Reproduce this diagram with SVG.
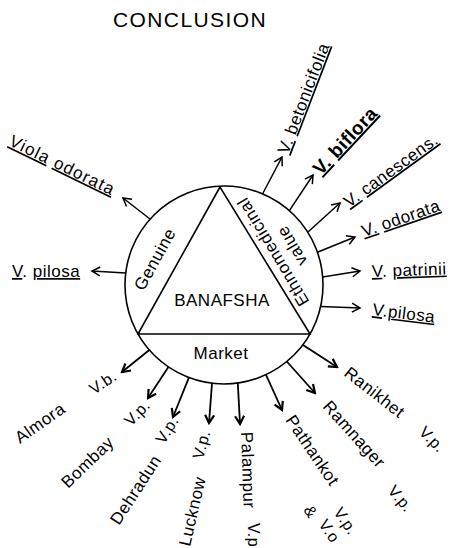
<svg xmlns="http://www.w3.org/2000/svg" width="453" height="548" viewBox="0 0 453 548">
<defs>
<style>
.t{font-family:"Liberation Sans",Arial,Helvetica,sans-serif;font-size:17px;letter-spacing:0.5px;fill:#000}
.s{font-size:16px}
.b{font-weight:bold;font-size:19px}
.u{text-decoration:underline}
.shape{fill:none;stroke:#000;stroke-width:1.6}
.c{stroke:#000;stroke-width:1.5;fill:none;marker-end:url(#ah)}
.cb{stroke:#000;stroke-width:1.8;fill:none;marker-end:url(#ahb)}
</style>
<marker id="ah" viewBox="-10 -6 12 12" markerWidth="12" markerHeight="12" refX="0" refY="0" orient="auto" markerUnits="userSpaceOnUse">
<path d="M-8,-4.5 L0,0 L-8,4.5" fill="none" stroke="#000" stroke-width="1.5"/>
</marker>
<marker id="ahb" viewBox="-10 -6 12 12" markerWidth="12" markerHeight="12" refX="0" refY="0" orient="auto" markerUnits="userSpaceOnUse">
<path d="M-8,-4.5 L0,0 L-8,4.5" fill="none" stroke="#000" stroke-width="2.2"/>
</marker>
</defs>
<rect width="453" height="548" fill="#fff"/>
<text class="t" x="190" y="27" text-anchor="middle" style="font-size:21px;letter-spacing:1.4px">CONCLUSION</text>

<g id="banafsha">
<circle class="shape" cx="224" cy="285" r="99"/>
<polygon class="shape" points="220,187 138,334 310,334"/>
<text class="t" x="222" y="306" text-anchor="middle">BANAFSHA</text>
<text class="t" x="221" y="359" text-anchor="middle">Market</text>
<text class="t" transform="translate(160,262) rotate(-61)" text-anchor="middle">Genuine</text>
<text class="t" transform="translate(278,249) rotate(-121)" text-anchor="middle">Ethnomedicinal</text>
<text class="t" transform="translate(297,243) rotate(-121)" text-anchor="middle">value</text>
</g>

<g id="connectors">
<line class="c" x1="262.5" y1="194" x2="282" y2="157"/>
<line class="c" x1="289.4" y1="210.7" x2="313" y2="175"/>
<line class="c" x1="307.7" y1="232.2" x2="340" y2="203"/>
<line class="c" x1="317.4" y1="252.2" x2="355" y2="237"/>
<line class="c" x1="322.7" y1="277" x2="360" y2="271"/>
<line class="c" x1="320.6" y1="306.5" x2="360" y2="308"/>
<line class="c" x1="150" y1="219" x2="123" y2="198"/>
<line class="c" x1="125.7" y1="273" x2="92" y2="271"/>
<line class="cb" x1="149.3" y1="350" x2="122" y2="372"/>
<line class="cb" x1="168.4" y1="366.9" x2="148" y2="398"/>
<line class="cb" x1="188.9" y1="377.6" x2="173" y2="417"/>
<line class="cb" x1="212" y1="383.3" x2="209" y2="423"/>
<line class="cb" x1="237.8" y1="383" x2="240" y2="424"/>
<line class="cb" x1="265.9" y1="374.6" x2="282" y2="410"/>
<line class="cb" x1="286.8" y1="361.5" x2="315" y2="393"/>
<line class="cb" x1="303" y1="345" x2="337" y2="367"/>
</g>

<g id="v-betonicifolia"><text class="t" transform="translate(288,155) rotate(-69)"><tspan class="u">V.</tspan> <tspan class="u">betonicifolia</tspan></text></g>
<g id="v-biflora"><text class="t b" transform="translate(321,176) rotate(-47)"><tspan class="u">V.</tspan> <tspan class="u">biflora</tspan></text></g>
<g id="v-canescens"><text class="t" transform="translate(349,208) rotate(-36)"><tspan class="u">V.</tspan> <tspan class="u">canescens.</tspan></text></g>
<g id="v-odorata"><text class="t" transform="translate(364,237) rotate(-19)"><tspan class="u">V.</tspan> <tspan class="u">odorata</tspan></text></g>
<g id="v-patrinii"><text class="t" transform="translate(372,277) rotate(-2)"><tspan class="u">V</tspan>. <tspan class="u">patrinii</tspan></text></g>
<g id="v-pilosa-r"><text class="t" transform="translate(372,315) rotate(7)"><tspan class="u">V</tspan>.<tspan class="u">pilosa</tspan></text></g>
<g id="viola-odorata"><text class="t" transform="translate(8,145) rotate(26)" style="letter-spacing:1.2px"><tspan class="u">Viola</tspan> <tspan class="u">odorata</tspan></text></g>
<g id="v-pilosa-l"><text class="t" x="12" y="277"><tspan class="u">V</tspan>. <tspan class="u">pilosa</tspan></text></g>

<g id="almora"><text class="t" transform="translate(20,444) rotate(-35)">Almora</text><text class="t s" transform="translate(94,395) rotate(-34)">V.b.</text></g>
<g id="bombay"><text class="t" transform="translate(68,489) rotate(-44)">Bombay</text><text class="t s" transform="translate(131,427) rotate(-46)">V.p.</text></g>
<g id="dehradun"><text class="t" transform="translate(119,526) rotate(-57)">Dehradun</text><text class="t s" transform="translate(164,445) rotate(-58)">V.p.</text></g>
<g id="lucknow"><text class="t" transform="translate(190,547) rotate(-77)">Lucknow</text><text class="t s" transform="translate(203,460) rotate(-75)">V.p.</text></g>
<g id="palampur"><text class="t" transform="translate(241,432) rotate(88)">Palampur</text><text class="t s" transform="translate(248,523) rotate(90)">V.p</text></g>
<g id="pathankot"><text class="t" transform="translate(285,420) rotate(56)">Pathankot</text><text class="t s" transform="translate(303,510) rotate(56)">&amp;</text><text class="t s" transform="translate(333,512) rotate(56)">V.p.</text><text class="t s" transform="translate(318,524) rotate(56)">V.o</text></g>
<g id="ramnager"><text class="t" transform="translate(322,407) rotate(48)">Ramnager</text><text class="t s" transform="translate(387,491) rotate(50)">V.p.</text></g>
<g id="ranikhet"><text class="t" transform="translate(343,375) rotate(38)">Ranikhet</text><text class="t s" transform="translate(418,433) rotate(45)">V.p.</text></g>
</svg>
